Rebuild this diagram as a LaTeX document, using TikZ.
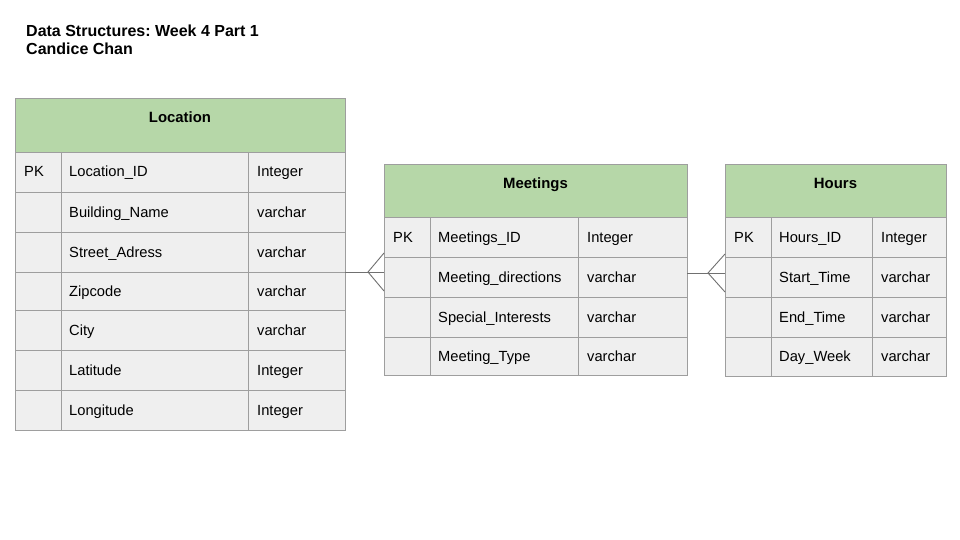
\documentclass[tikz,border=0pt]{standalone}
\usepackage{fontspec}
\setmainfont{Liberation Sans}
\frenchspacing
\definecolor{hdrgreen}{HTML}{B6D7A8}
\definecolor{rowgray}{HTML}{EFEFEF}
\definecolor{linegray}{HTML}{9E9E9E}
\definecolor{conngray}{HTML}{707070}
\tikzset{
  hdrbox/.style={draw=linegray, fill=hdrgreen, line width=0.9pt},
  cellbox/.style={draw=linegray, fill=rowgray, line width=0.9pt},
  hdrtext/.style={anchor=base, inner sep=0pt, font=\fontsize{14.9}{17}\selectfont\bfseries},
  celltext/.style={anchor=base west, inner sep=0pt, font=\fontsize{14.7}{17}\selectfont},
  titletext/.style={anchor=base west, inner sep=0pt, font=\fontsize{16}{18}\selectfont\bfseries},
  conn/.style={draw=conngray, line width=0.9pt}
}
\newcommand\ertable[9]{%
  \path[hdrbox] (#2,-#6) rectangle (#5,-#7);
  \node[hdrtext] (#1-title) at ({(#2+#5)/2},{-(#6+24.5)}) {#8};
  \foreach \yt/\yb/\pk/\f/\t [count=\i] in {#9} {
    \path[cellbox] (#2,-\yt) rectangle (#3,-\yb);
    \path[cellbox] (#3,-\yt) rectangle (#4,-\yb);
    \path[cellbox] (#4,-\yt) rectangle (#5,-\yb);
    \node[celltext] (#1-pk-\i) at ({#2+9},{-(\yt+\yb)/2-5}) {\pk};
    \node[celltext] (#1-f-\i) at ({#3+8},{-(\yt+\yb)/2-5}) {\f};
    \node[celltext] (#1-t-\i) at ({#4+9},{-(\yt+\yb)/2-5}) {\t};
  }
}
\begin{document}
\begin{tikzpicture}[x=1pt,y=1pt]
\path[fill=white, use as bounding box] (0,0) rectangle (960,-540);

\node[titletext] (title1) at (26,-37) {Data Structures: Week 4 Part 1};
\node[titletext] (title2) at (26,-55) {Candice Chan};

\ertable{loc}{15}{61}{248}{345}{98}{152}{Location}{%
  152/192/PK/Location\_ID/Integer,
  192/232//Building\_Name/varchar,
  232/272//Street\_Adress/varchar,
  272/310//Zipcode/varchar,
  310/350//City/varchar,
  350/390//Latitude/Integer,
  390/430//Longitude/Integer}

\ertable{meet}{384}{430}{578}{687}{164}{217}{Meetings}{%
  217/257/PK/Meetings\_ID/Integer,
  257/297//Meeting\_directions/varchar,
  297/337//Special\_Interests/varchar,
  337/375//Meeting\_Type/varchar}

\ertable{hrs}{725}{771}{872}{946}{164}{217}{Hours}{%
  217/257/PK/Hours\_ID/Integer,
  257/297//Start\_Time/varchar,
  297/337//End\_Time/varchar,
  337/376//Day\_Week/varchar}

% connector Location -> Meetings
\coordinate (a1) at (345,-272);
\coordinate (a2) at (384,-272);
\coordinate (a3) at (368,-272);
\coordinate (a4) at (384,-253);
\coordinate (a5) at (384,-291);
\draw[conn] (a1) -- (a2);
\draw[conn] (a4) -- (a3) -- (a5);

% connector Meetings -> Hours
\coordinate (b1) at (687,-273);
\coordinate (b2) at (725,-273);
\coordinate (b3) at (708,-273);
\coordinate (b4) at (725,-254);
\coordinate (b5) at (725,-292);
\draw[conn] (b1) -- (b2);
\draw[conn] (b4) -- (b3) -- (b5);
\end{tikzpicture}
\end{document}
